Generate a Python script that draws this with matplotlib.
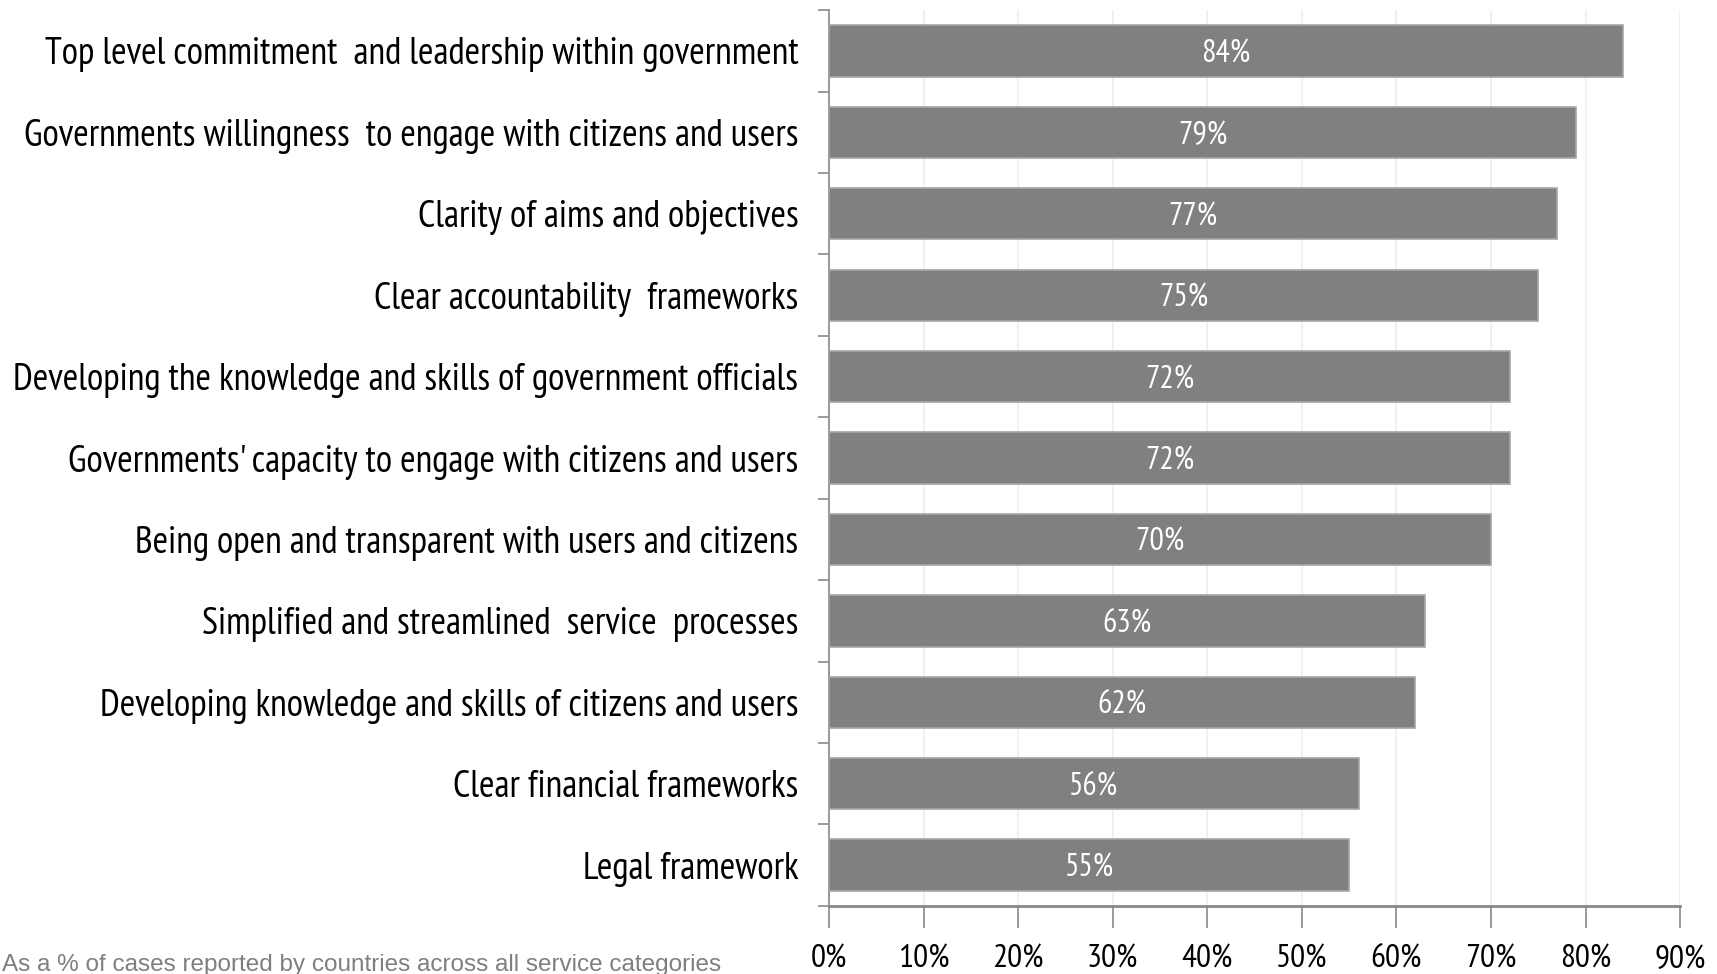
import matplotlib.pyplot as plt
from matplotlib.ticker import FuncFormatter
import numpy as np

plt.rcParams['font.family'] = ['PT Sans Narrow', 'DejaVu Sans']

# success factors, top to bottom
factors = [
    "Top level commitment  and leadership within government",
    "Governments willingness  to engage with citizens and users",
    "Clarity of aims and objectives",
    "Clear accountability  frameworks",
    "Developing the knowledge and skills of government officials",
    "Governments' capacity to engage with citizens and users",
    "Being open and transparent with users and citizens",
    "Simplified and streamlined  service  processes",
    "Developing knowledge and skills of citizens and users",
    "Clear financial frameworks",
    "Legal framework",
]
shares = [84, 79, 77, 75, 72, 72, 70, 63, 62, 56, 55]
xticks = [0, 10, 20, 30, 40, 50, 60, 70, 80, 90]

fig = plt.figure(figsize=(17.17, 9.74), dpi=100)
ax = fig.add_axes([0.4828, 0.0700, 0.4957, 0.9195])

y = np.arange(len(factors))[::-1]
ax.barh(y, shares, height=0.63, color='#808080', edgecolor='#a6a6a6', linewidth=1.2, zorder=3)
for yi, v in zip(y, shares):
    ax.text(v / 2, yi, "%d%%" % v, color='white', ha='center', va='center_baseline',
            fontsize=23, zorder=4)

ax.set_xlim(0, 90)
ax.set_ylim(-0.5, len(factors) - 0.5)
ax.set_xticks(xticks)
ax.xaxis.set_major_formatter(FuncFormatter(lambda v, p: "%d%%" % v))
ax.set_yticks(y)
ax.set_yticklabels(factors)
# category separators on the left axis
ax.set_yticks(np.arange(len(factors) + 1) - 0.5, minor=True)

ax.grid(axis='x', color='#eeeeee', linewidth=1.2, zorder=0)
for s in ['top', 'right']:
    ax.spines[s].set_visible(False)
ax.spines['left'].set_color('#898989')
ax.spines['bottom'].set_color('#898989')
ax.spines['bottom'].set_linewidth(2)
ax.spines['left'].set_linewidth(1.2)

ax.tick_params(axis='y', which='major', length=0, pad=22, labelsize=27)
ax.tick_params(axis='y', which='minor', length=8, color='#898989', width=1.2)
ax.tick_params(axis='x', length=16, color='#898989', width=1.2, pad=12, labelsize=24)

fig.text(0.001, 0.003, "As a % of cases reported by countries across all service categories",
         family='Liberation Sans', color='#7f7f7f', fontsize=17.5, ha='left', va='baseline')

fig.savefig('out.png', dpi=100)
